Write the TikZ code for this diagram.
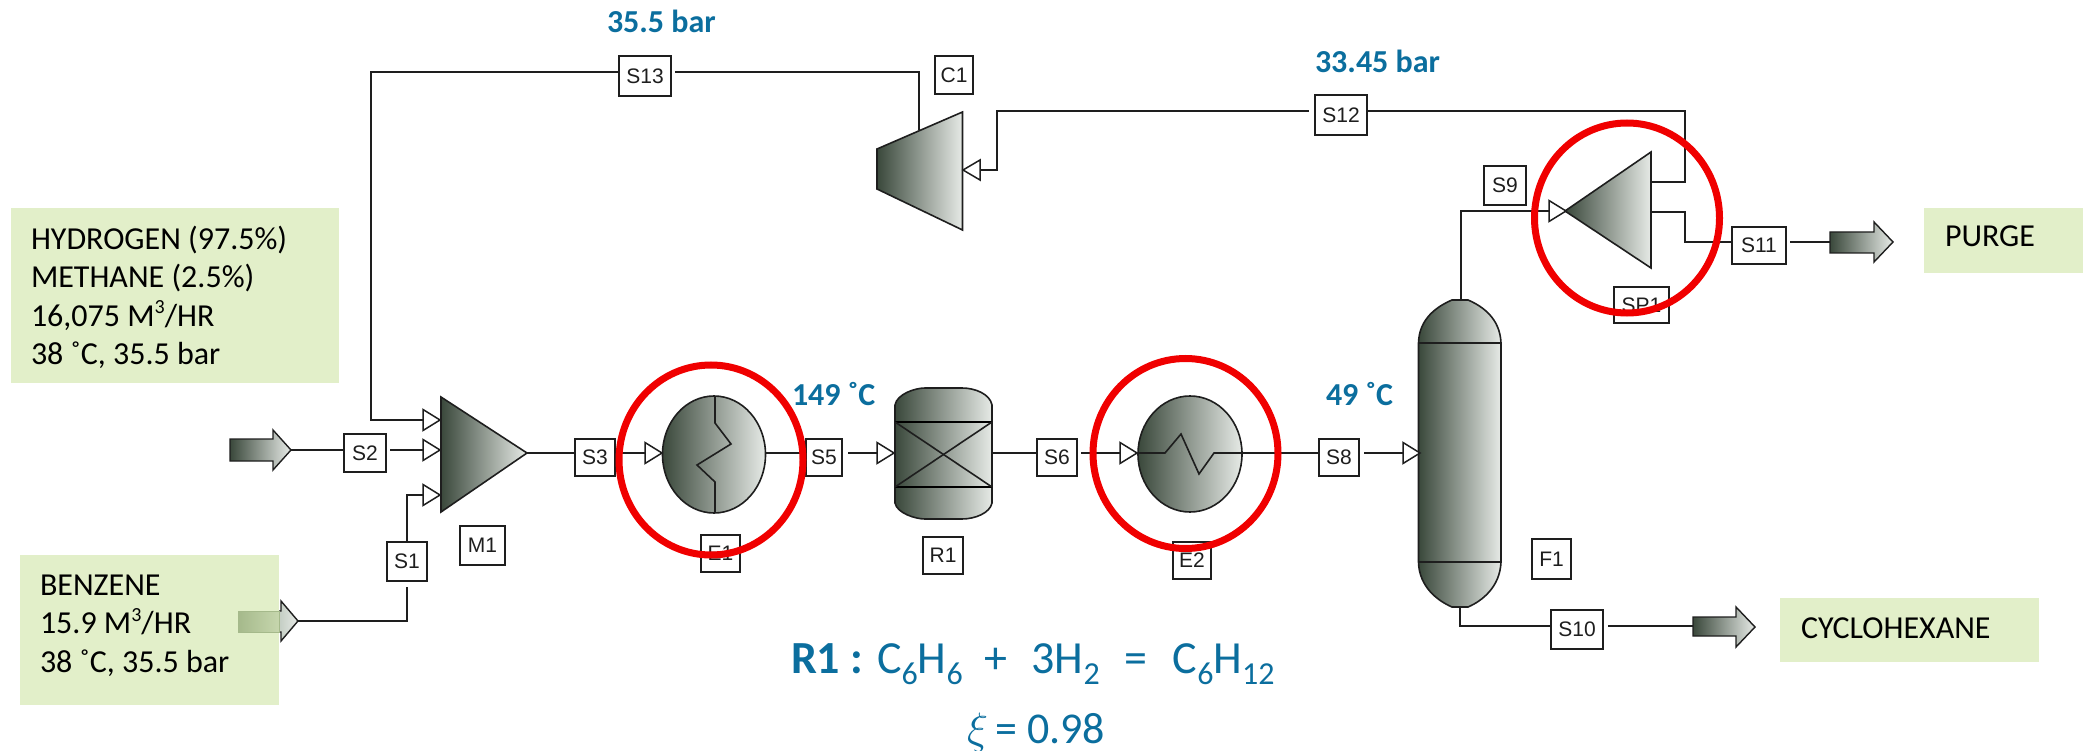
\RequirePackage{fix-cm}
\documentclass[tikz,border=0pt]{standalone}
\usepackage{fontspec}
\usepackage{graphicx}
\setmainfont{Carlito}
\newfontfamily\tagfont{Liberation Sans}
\definecolor{boxgreen}{HTML}{E2EFC9}
\definecolor{bluetxt}{HTML}{0B6E9E}
\definecolor{ink}{HTML}{1E1E1E}
\definecolor{gdark}{HTML}{3A483B}
\definecolor{gmid}{HTML}{7A8F78}
\definecolor{glight}{HTML}{E6EAE6}
\definecolor{ringred}{HTML}{F00000}
\definecolor{benzL}{HTML}{A5B98B}
\definecolor{benzR}{HTML}{C6D6AD}
\newcommand{\lowr}[1]{\raisebox{-.24em}{\fontsize{32}{32}\selectfont #1}}
\newcommand{\highr}[1]{\raisebox{.40em}{\fontsize{20}{20}\selectfont #1}}
\newcommand{\inletR}[2]{\draw[inletmark] (#1,#2-10.5) -- (#1+17,#2) -- (#1,#2+10.5) -- cycle;}
\tikzset{
  pipe/.style={draw=ink,line width=1.7pt},
  tagbox/.style={draw=ink,line width=1.7pt,fill=white,inner sep=0pt,outer sep=0pt,text=ink,
    font=\tagfont\fontsize{21}{21}\selectfont},
  unitbody/.style={draw=ink,line width=1.6pt,left color=gdark,middle color=gmid,right color=glight},
  flowarrow/.style={draw=ink,line width=1.4pt,left color=gdark,middle color=gmid,right color=glight},
  inletmark/.style={draw=ink,line width=1.5pt,fill=white},
  notebox/.style={fill=boxgreen,inner sep=0pt,outer sep=0pt},
  notetext/.style={inner sep=0pt,outer sep=0pt,align=left,text=black,font=\fontsize{32}{38.3}\selectfont},
  bluenote/.style={inner sep=0pt,outer sep=0pt,text=bluetxt,font=\bfseries\fontsize{32}{38}\selectfont},
  reaction/.style={inner sep=0pt,outer sep=0pt,text=bluetxt,font=\fontsize{46}{50}\selectfont},
  ring/.style={draw=ringred,line width=7pt},
  inner/.style={draw=ink,line width=1.6pt},
}
\begin{document}
\begin{tikzpicture}[x=1pt,y=-1pt]
\useasboundingbox (0,0) rectangle (2083,751);

% feed arrow under benzene box
\draw[flowarrow,left color=gmid,middle color=gmid!50!glight,right color=glight] (238,611) -- (281,611) -- (281,601) -- (298,621) -- (281,641) -- (281,632) -- (238,632) -- cycle;

% note boxes
\node[notebox,minimum width=328pt,minimum height=175pt] (noteH) at (175,295.5) {};
\node[notebox,minimum width=259pt,minimum height=150pt] (noteB) at (149.5,630) {};
\node[notebox,minimum width=159pt,minimum height=65pt] (noteP) at (2003.5,240.5) {};
\node[notebox,minimum width=259pt,minimum height=64pt] (noteC) at (1909.5,630) {};
\path[draw=benzL,line width=1pt,left color=benzL,right color=benzR] (238,611) rectangle (279,632);

\node[notetext,anchor=north west] (txtH) at (31,226) {HYDROGEN (97.5\%)\\METHANE (2.5\%)\\16,075 M\highr{3}/HR\\38 ˚C, 35.5 bar};
\node[notetext,anchor=north west] (txtB) at (40,575) {BENZENE\\15.9 M\highr{3}/HR\\38 ˚C, 35.5 bar};
\node[notetext,anchor=base west] (txtP) at (1945,247) {PURGE};
\node[notetext,anchor=base west] (txtC) at (1801,638) {CYCLOHEXANE};

% blue annotations
\node[bluenote,anchor=base west] (p355) at (607,33) {35.5 bar};
\node[bluenote,anchor=base west] (p3345) at (1315,73) {33.45 bar};
\node[bluenote,anchor=base west] (t149) at (792,405) {149 ˚C};
\node[bluenote,anchor=base west] (t49) at (1326,405) {49 ˚C};
\node[reaction,anchor=base west] (eqn) at (791,673) {\textbf{R1 :} C\lowr{6}H\lowr{6}\hspace{22pt}+\hspace{24pt}3H\lowr{2}\hspace{25pt}=\hspace{25pt}C\lowr{6}H\lowr{12}};
\node[reaction,anchor=base west,font=\fontsize{44}{48}\selectfont] (xi) at (967,743) {$\xi$\,= 0.98};

% stream and unit tags
\node[tagbox,minimum width=42pt,minimum height=37.5pt] (S2) at (365,453) {S2};
\node[tagbox,minimum width=40pt,minimum height=39pt] (S1) at (407,561.5) {S1};
\node[tagbox,minimum width=45pt,minimum height=39pt] (M1) at (482.5,545.5) {M1};
\node[tagbox,minimum width=40pt,minimum height=37pt] (S3) at (595,457.5) {S3};
\node[tagbox,minimum width=39pt,minimum height=37pt] (E1) at (720.5,553.5) {E1};
\node[tagbox,minimum width=36pt,minimum height=37pt] (S5) at (824,457.5) {S5};
\node[tagbox,minimum width=40pt,minimum height=37pt] (R1) at (943,555.5) {R1};
\node[tagbox,minimum width=40pt,minimum height=37pt] (S6) at (1057,457.5) {S6};
\node[tagbox,minimum width=38.5pt,minimum height=37pt] (E2) at (1192,560.5) {E2};
\node[tagbox,minimum width=40pt,minimum height=37pt] (S8) at (1339,457.5) {S8};
\node[tagbox,minimum width=39pt,minimum height=40pt] (F1) at (1551.5,559) {F1};
\node[tagbox,minimum width=52pt,minimum height=39pt] (S10) at (1577,629.5) {S10};
\node[tagbox,minimum width=54pt,minimum height=37pt] (S11) at (1759,245.5) {S11};
\node[tagbox,minimum width=42pt,minimum height=39pt] (S9) at (1505,185.5) {S9};
\node[tagbox,minimum width=55pt,minimum height=36pt] (SP1) at (1641.5,305) {SP1};
\node[tagbox,minimum width=52pt,minimum height=40pt] (S12) at (1341,115) {S12};
\node[tagbox,minimum width=52pt,minimum height=40pt] (S13) at (645,76) {S13};
\node[tagbox,minimum width=38.5pt,minimum height=38pt] (C1) at (954,75) {C1};

% ports
\coordinate (tipH) at (291,450);
\coordinate (tipB) at (298,621);
\coordinate (inA) at (423,420);
\coordinate (inB) at (423,450);
\coordinate (inC) at (423,495);
\coordinate (topL) at (371,72);
\coordinate (mixOut) at (527,453);
\coordinate (e1In) at (645,453);
\coordinate (e1Out) at (765,453);
\coordinate (r1In) at (877,453);
\coordinate (r1Out) at (992,453);
\coordinate (e2In) at (1120,453);
\coordinate (e2Out) at (1214,453);
\coordinate (f1In) at (1403,453);
\coordinate (f1Top) at (1461,300);
\coordinate (f1Bot) at (1460,607);
\coordinate (f1Foot) at (1460,626);
\coordinate (cyclo) at (1693,626);
\coordinate (spIn) at (1549,211);
\coordinate (spOutA) at (1651,182);
\coordinate (spOutB) at (1651,212);
\coordinate (jogB) at (1685,242);
\coordinate (purge) at (1830,242);
\coordinate (rightTop) at (1685,111);
\coordinate (cmpIn) at (980,170);
\coordinate (cmpJog) at (997,111);
\coordinate (cmpTop) at (919,130);
\coordinate (cmpRise) at (919,72);

% connectors
\draw[pipe] (tipH) -- (tipH -| S2.west);
\draw[pipe,shorten <=4pt] (inB -| S2.east) -- (inB);
\draw[pipe] (tipB) -| (S1.south |- 587,587) ;
\draw[pipe] (S1.north) |- (inC);
\draw[pipe] (inA) -| (topL) -- (topL -| S13.west);
\draw[pipe,shorten <=4pt] (topL -| S13.east) -- (cmpRise) -- (cmpTop);
\draw[pipe] (mixOut) -- (mixOut -| S3.west);
\draw[pipe,shorten <=4pt] (e1In -| S3.east) -- (e1In);
\draw[pipe] (e1Out) -- (e1Out -| S5.west);
\draw[pipe,shorten <=6pt] (r1In -| S5.east) -- (r1In);
\draw[pipe] (r1Out) -- (r1Out -| S6.west);
\draw[pipe,shorten <=4pt] (e2In -| S6.east) -- (e2In);
\draw[pipe] (e2Out) -- (e2Out -| S8.west);
\draw[pipe,shorten <=5pt] (f1In -| S8.east) -- (f1In);
\draw[pipe] (f1Top) |- (spIn);
\draw[pipe] (f1Bot) -- (f1Foot) -- (f1Foot -| S10.west);
\draw[pipe,shorten <=5pt] (f1Foot -| S10.east) -- (cyclo);
\draw[pipe] (spOutA) -| (rightTop) -- (rightTop -| S12.east);
\draw[pipe] (spOutB) -| (jogB) -- (jogB -| S11.west);
\draw[pipe,shorten <=4pt] (purge -| S11.east) -- (purge);
\draw[pipe,shorten >=6pt] (cmpIn) -| (cmpJog) -- (cmpJog -| S12.west);

% outlet / feed arrows
\draw[flowarrow] (230,439) -- (273,439) -- (273,430) -- (291,450) -- (273,470) -- (273,461) -- (230,461) -- cycle;
\draw[flowarrow] (1693,617) -- (1736,617) -- (1736,607) -- (1755,627) -- (1736,647) -- (1736,636) -- (1693,636) -- cycle;
\draw[flowarrow] (1830,232) -- (1874,232) -- (1874,222) -- (1893,242) -- (1874,262) -- (1874,253) -- (1830,253) -- cycle;

% mixer
\draw[unitbody] (441,397) -- (527,453) -- (441,512) -- cycle;
\inletR{423}{420}
\inletR{423}{450}
\inletR{423}{495}

% E1
\draw[unitbody] (714,454.5) ellipse [x radius=51.5pt,y radius=58.5pt];
\begin{scope}[shift={(714,454.5)}]
\draw[inner] (1,-58.5) -- (1,-31.5) -- (17,-10.5) -- (-17,10.5) -- (1,27.5) -- (1,58.5);
\end{scope}
\inletR{645}{453}

% R1
\draw[unitbody] (895,405) .. controls (897,394) and (915,388) .. (925,388) -- (962,388) .. controls (975,388) and (990,394) .. (992,405) -- (992,503) .. controls (990,513) and (975,519) .. (962,519) -- (925,519) .. controls (915,519) and (897,513) .. (895,503) -- cycle;
\draw[draw=black,line width=2.4pt] (895,422) -- (992,422);
\draw[draw=black,line width=2.4pt] (895,487) -- (992,487);
\draw[inner] (895,422) -- (992,487);
\draw[inner] (895,487) -- (992,422);
\inletR{877}{453}

% E2
\draw[unitbody] (1190,454) ellipse [x radius=52pt,y radius=58pt];
\begin{scope}[shift={(1190,454)}]
\draw[inner] (-52,-1) -- (-25,-1) -- (-9,-20) -- (9,20) -- (24,-1) -- (52,-1);
\end{scope}
\inletR{1120}{453}

% F1
\draw[unitbody] (1418.5,343) .. controls (1419,318) and (1438,306) .. (1452,300) -- (1468,300) .. controls (1482,306) and (1500,318) .. (1501,343) -- (1501,562) .. controls (1500,587) and (1482,601) .. (1468,607) -- (1452,607) .. controls (1438,601) and (1419,587) .. (1418.5,562) -- cycle;
\draw[inner] (1418.5,343) -- (1501,343);
\draw[inner] (1418.5,562) -- (1501,562);
\inletR{1403}{453}

% splitter
\draw[unitbody] (1565,211) -- (1651,152) -- (1651,268) -- cycle;
\inletR{1549}{211}

% compressor
\draw[unitbody] (877,149) -- (962.5,112) -- (962.5,230) -- (877,189) -- cycle;
\draw[inletmark] (980,160) -- (963,170) -- (980,180) -- cycle;

% red rings
\draw[ring] (711,460) ellipse [x radius=92pt,y radius=95pt];
\draw[ring] (1185.5,453.5) ellipse [x radius=92.5pt,y radius=95pt];
\draw[ring] (1627,218) ellipse [x radius=92.5pt,y radius=95pt];
\end{tikzpicture}
\end{document}
